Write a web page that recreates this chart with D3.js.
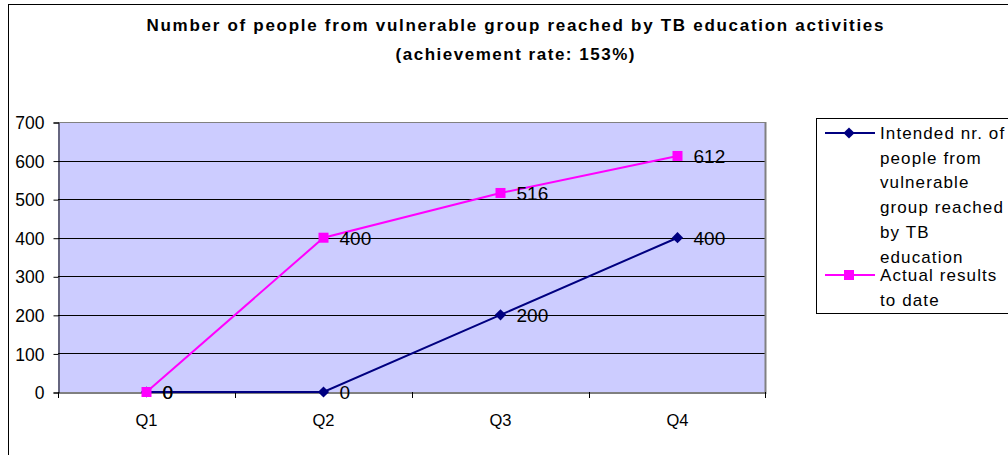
<!DOCTYPE html>
<html><head><meta charset="utf-8">
<script src="https://cdn.jsdelivr.net/npm/d3@7"></script>
<style>body{margin:0;background:#fff}svg{display:block;font-family:"Liberation Sans",Arial,sans-serif}</style>
</head><body><svg id="c" width="1008" height="455"></svg>
<script>
const categories = ["Q1","Q2","Q3","Q4"];
const intended = [0,0,200,400];
const actual = [0,400,516,612];
const yTicks = [0,100,200,300,400,500,600,700];
const seriesNames = [["Intended nr. of","people from","vulnerable","group reached","by TB","education"],["Actual results","to date"]];
const titleLines = ["Number of people from vulnerable group reached by TB education activities","(achievement rate: 153%)"];

const svg = d3.select("#c");
svg.append("rect").attr("x",8.5).attr("y",4.5).attr("width",1010).attr("height",460).attr("fill","#fff").attr("stroke","#000").attr("stroke-width",1);

const x = d3.scaleBand().domain(categories).range([58,766]);
const y = d3.scaleLinear().domain([0,700]).range([392,122]);

svg.append("rect").attr("x",58).attr("y",122).attr("width",708).attr("height",270).attr("fill","#CCCCFF");
svg.append("g").selectAll("line").data(yTicks.slice(1)).join("line")
 .attr("x1",58).attr("x2",766).attr("y1",d=>Math.round(y(d))+0.5).attr("y2",d=>Math.round(y(d))+0.5)
 .attr("stroke",(d)=>d===700?"#808080":"#000").attr("stroke-width",1);
svg.append("line").attr("x1",765.5).attr("x2",765.5).attr("y1",122).attr("y2",392).attr("stroke","#808080").attr("stroke-width",2);

const yAxis = d3.axisLeft(y).tickValues(yTicks).tickSize(5).tickPadding(9);
const gy = svg.append("g").attr("transform","translate(58.5,0.5)").call(yAxis);
gy.select(".domain").attr("stroke","#000");
gy.selectAll("text").attr("font-size",17.5).attr("fill","#000").attr("font-family","Liberation Sans, Arial").attr("dy","0.35em");
const xAxis = d3.axisBottom(x).tickSize(0).tickPadding(20);
const gx = svg.append("g").attr("transform","translate(0,392.5)").call(xAxis);
gx.select(".domain").attr("stroke","#000");
gx.selectAll("text").attr("font-size",16.5).attr("fill","#000").attr("font-family","Liberation Sans, Arial").attr("y",33).attr("dy",0);
svg.append("g").selectAll("line").data(categories).join("line")
 .attr("x1",d=>Math.round(x(d))+0.5).attr("x2",d=>Math.round(x(d))+0.5).attr("y1",392).attr("y2",398).attr("stroke","#000");
svg.append("line").attr("x1",765.5).attr("x2",765.5).attr("y1",392).attr("y2",398).attr("stroke","#000");

const cx = d=>x(d)+x.bandwidth()/2;
const line = d3.line().x((d,i)=>cx(categories[i])).y(d=>y(d));
svg.append("path").datum(intended).attr("d",line).attr("fill","none").attr("stroke","#000080").attr("stroke-width",2);
svg.append("path").datum(actual).attr("d",line).attr("fill","none").attr("stroke","#FF00FF").attr("stroke-width",2);
const diamond = d3.symbol().type(d3.symbolDiamond2).size(80);
svg.append("g").selectAll("path").data(intended).join("path")
 .attr("d",diamond).attr("transform",(d,i)=>`translate(${cx(categories[i])},${y(d)})`).attr("fill","#000080");
svg.append("g").selectAll("rect").data(actual).join("rect")
 .attr("x",(d,i)=>cx(categories[i])-5).attr("y",d=>y(d)-5).attr("width",10).attr("height",10).attr("fill","#FF00FF");
const lbl = (data)=>svg.append("g").selectAll("text").data(data).join("text")
 .attr("x",(d,i)=>cx(categories[i])+16).attr("y",d=>y(d)+7).attr("font-size",19).attr("fill","#000").text(d=>d);
lbl(intended); lbl(actual);

const titleW = [737,239];
svg.append("g").selectAll("text").data(titleLines).join("text")
 .attr("x",515).attr("y",(d,i)=>31+i*28.5).attr("text-anchor","middle").attr("font-weight","bold").attr("font-size",17)
 .attr("textLength",(d,i)=>titleW[i]).attr("lengthAdjust","spacing").text(d=>d);

svg.append("rect").attr("x",816.5).attr("y",118.5).attr("width",200).attr("height",195).attr("fill","#fff").attr("stroke","#000");
const lg = svg.append("g");
lg.append("line").attr("x1",825).attr("x2",875).attr("y1",133).attr("y2",133).attr("stroke","#000080").attr("stroke-width",2);
lg.append("path").attr("d",diamond).attr("transform","translate(849,133)").attr("fill","#000080");
lg.append("line").attr("x1",825).attr("x2",875).attr("y1",275).attr("y2",275).attr("stroke","#FF00FF").attr("stroke-width",2);
lg.append("rect").attr("x",844).attr("y",270).attr("width",10).attr("height",10).attr("fill","#FF00FF");
seriesNames[0].forEach((t,i)=>lg.append("text").attr("x",880).attr("y",139+i*24.7).attr("font-size",17).attr("letter-spacing",1.1).text(t));
seriesNames[1].forEach((t,i)=>lg.append("text").attr("x",880).attr("y",281+i*24.7).attr("font-size",17).attr("letter-spacing",1.1).text(t));
</script></body></html>
